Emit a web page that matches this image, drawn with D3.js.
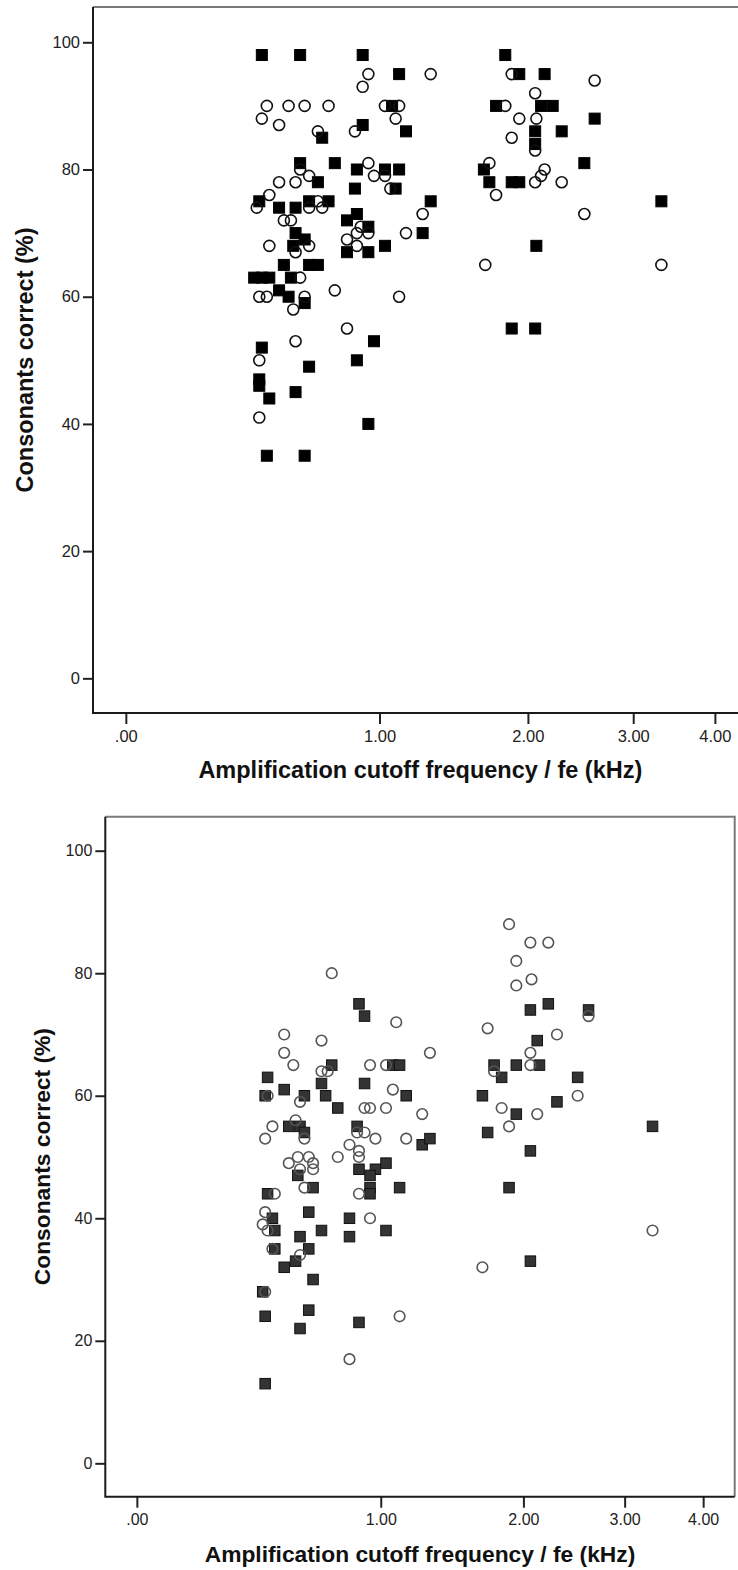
<!DOCTYPE html>
<html>
<head>
<meta charset="utf-8">
<script src="https://cdn.jsdelivr.net/npm/d3@7"></script>
<style>
  body { margin: 0; background: #fff; }
  svg text { font-family: "Liberation Sans", Arial, sans-serif; }
</style>
</head>
<body>
<svg width="738" height="1570"></svg>
<script>
const xTicks = [0, 1, 2, 3, 4];
const yTicks = [0, 20, 40, 60, 80, 100];
const xTitle = "Amplification cutoff frequency / fe (kHz)";
const yTitle = "Consonants correct (%)";

// upper chart: [cutoff kHz, % correct]
const topFilled = [
  [0.45,98],[0.61,98],[0.91,98],[1.11,95],[1.07,90],[0.91,87],[1.15,86],[0.71,85],
  [0.61,81],[0.77,81],[0.88,80],[1.03,80],[1.11,80],[0.69,78],[0.87,77],[1.09,77],
  [0.44,75],[0.65,75],[0.74,75],[1.30,75],[0.52,74],[0.59,74],[0.88,73],[0.83,72],
  [0.94,71],[1.25,70],[0.59,70],[0.63,69],[0.58,68],[1.03,68],[0.83,67],[0.94,67],
  [0.54,65],[0.65,65],[0.69,65],[0.42,63],[0.45,63],[0.48,63],[0.57,63],[0.52,61],
  [0.56,60],[0.63,59],[0.45,52],[0.97,53],[0.88,50],[0.65,49],[0.44,47],[0.44,46],
  [0.48,44],[0.59,45],[0.94,40],[0.47,35],[0.63,35],
  [1.82,98],[1.93,95],[2.14,95],[1.75,90],[2.11,90],[2.21,90],[2.60,88],[2.06,86],
  [2.29,86],[2.06,84],[2.50,81],[1.66,80],[1.70,78],[1.87,78],[1.93,78],[3.32,75],
  [2.07,68],[1.87,55],[2.06,55]
];
const topOpen = [
  [0.94,95],[1.30,95],[0.91,93],[0.47,90],[0.56,90],[0.63,90],[0.74,90],[1.03,90],
  [1.11,90],[0.45,88],[1.09,88],[0.52,87],[0.69,86],[0.87,86],[0.94,81],[0.61,80],
  [0.65,79],[0.97,79],[1.03,79],[0.52,78],[0.59,78],[1.06,77],[0.48,76],[0.43,74],
  [0.65,74],[0.69,75],[0.71,74],[1.25,73],[0.54,72],[0.57,72],[0.90,71],[0.94,70],
  [0.88,70],[1.15,70],[0.83,69],[0.48,68],[0.65,68],[0.88,68],[0.59,67],[0.61,63],
  [0.77,61],[0.44,60],[0.47,60],[0.63,60],[1.11,60],[0.58,58],[0.83,55],[0.59,53],
  [0.44,50],[0.44,41],
  [1.87,95],[2.60,94],[2.06,92],[1.82,90],[1.93,88],[2.07,88],[1.87,85],[2.06,83],
  [1.70,81],[2.14,80],[2.11,79],[2.06,78],[2.29,78],[1.75,76],[2.50,73],[1.67,65],
  [3.32,65]
];

// lower chart
const bottomFilled = [
  [0.88,75],[0.91,73],[0.74,65],[1.07,65],[1.11,65],[0.45,63],[0.69,62],[0.91,62],
  [0.52,61],[0.44,60],[0.61,60],[0.71,60],[1.15,60],[0.77,58],[0.54,55],[0.59,55],
  [0.87,55],[0.61,54],[1.25,52],[1.30,53],[0.88,48],[0.97,48],[1.03,49],[0.94,47],
  [0.58,47],[0.65,45],[0.94,45],[0.94,44],[1.11,45],[0.45,44],[0.63,41],[0.47,40],
  [0.83,40],[0.48,38],[0.69,38],[1.03,38],[0.59,37],[0.83,37],[0.48,35],[0.63,35],
  [0.57,33],[0.52,32],[0.65,30],[0.43,28],[0.44,24],[0.63,25],[0.59,22],[0.88,23],
  [0.44,13],
  [2.22,75],[2.06,74],[2.61,74],[2.12,69],[1.76,65],[1.94,65],[2.14,65],[1.82,63],
  [2.50,63],[1.67,60],[2.30,59],[1.94,57],[1.71,54],[2.06,51],[1.88,45],[2.06,33],
  [3.33,55]
];
const bottomOpen = [
  [0.74,80],[1.09,72],[0.52,70],[0.69,69],[0.52,67],[1.30,67],[0.56,65],[0.94,65],
  [1.03,65],[0.69,64],[0.72,64],[0.45,60],[0.59,59],[1.07,61],[0.91,58],[0.94,58],
  [1.03,58],[1.25,57],[0.57,56],[0.47,55],[0.44,53],[0.61,53],[0.87,54],[0.91,54],
  [0.97,53],[1.15,53],[0.83,52],[0.88,51],[0.88,50],[0.77,50],[0.54,49],[0.58,50],
  [0.63,50],[0.65,49],[0.65,48],[0.59,48],[0.61,45],[0.48,44],[0.88,44],[0.94,40],
  [0.44,41],[0.43,39],[0.45,38],[0.47,35],[0.59,34],[0.44,28],[1.11,24],[0.83,17],
  [1.88,88],[2.06,85],[2.22,85],[1.94,82],[2.07,79],[1.94,78],[2.61,73],[1.71,71],
  [2.30,70],[2.06,67],[2.06,65],[1.76,64],[2.50,60],[1.82,58],[2.12,57],[1.88,55],
  [3.33,38],[1.67,32]
];

const svg = d3.select("svg");
const fmt = v => d3.format(".2f")(v).replace(/^0\./, ".");

function drawPanel(p) {
  const g = svg.append("g");
  // axis is cutoff + 1 on a log scale, so the .00 tick sits at log(1)
  const xs = d3.scaleLog().domain([0.9142, 5.469]).range([p.left, p.right]);
  const x = v => xs(v + 1);
  const y = d3.scaleLinear().domain([-5.45, 105.55]).range([p.bottom, p.top]);

  // frame: top + right grey
  g.append("path")
    .attr("d", `M${p.left},${p.top}H${p.right}V${p.bottom}`)
    .attr("fill", "none").attr("stroke", "#7a7a7a").attr("stroke-width", 2);

  const ya = g.append("g")
    .attr("transform", `translate(${p.left},0)`)
    .call(d3.axisLeft(y).tickValues(yTicks).tickSize(10).tickPadding(3).tickSizeOuter(0));
  const xa = g.append("g")
    .attr("transform", `translate(0,${p.bottom})`)
    .call(d3.axisBottom(xs).tickValues(xTicks.map(v => v + 1))
      .tickFormat(v => fmt(v - 1)).tickSize(11).tickPadding(6).tickSizeOuter(0));
  [ya, xa].forEach(a => {
    a.select(".domain").remove();
    a.selectAll(".tick line").attr("stroke", "#222").attr("stroke-width", 2);
    a.selectAll(".tick text").attr("fill", "#222").style("font-size", p.tickFont + "px");
  });
  g.append("path")
    .attr("d", `M${p.left},${p.top}V${p.bottom}H${p.right}`)
    .attr("fill", "none").attr("stroke", "#1a1a1a").attr("stroke-width", 2);

  const s = p.sq;
  g.selectAll(".sq").data(p.filled).enter().append("rect")
    .attr("class", "sq")
    .attr("x", d => x(d[0]) - s / 2)
    .attr("y", d => y(d[1]) - s / 2)
    .attr("width", s).attr("height", s)
    .attr("fill", p.sqFill).attr("stroke", p.sqStroke).attr("stroke-width", 1);

  g.selectAll(".ci").data(p.open).enter().append("circle")
    .attr("class", "ci")
    .attr("cx", d => x(d[0]))
    .attr("cy", d => y(d[1]))
    .attr("r", p.r)
    .attr("fill", "none").attr("stroke", p.ciStroke).attr("stroke-width", 1.6);

  g.append("text")
    .attr("x", (p.left + p.right) / 2).attr("y", p.xTitleY)
    .attr("text-anchor", "middle")
    .style("font-size", p.titleFont + "px").style("font-weight", "bold")
    .attr("fill", "#111")
    .text(xTitle);
  g.append("text")
    .attr("transform", `translate(${p.yTitleX},${(p.top + p.bottom) / 2}) rotate(-90)`)
    .attr("text-anchor", "middle")
    .style("font-size", p.titleFont + "px").style("font-weight", "bold")
    .attr("fill", "#111")
    .text(yTitle);
}

drawPanel({
  left: 93, right: 747.7, top: 7, bottom: 713,
  filled: topFilled, open: topOpen,
  sq: 11, r: 5.5, sqFill: "#000", sqStroke: "#000", ciStroke: "#111",
  tickFont: 16.5, titleFont: 23.5, xTitleY: 778, yTitleX: 33
});
drawPanel({
  left: 105.3, right: 734.7, top: 816.7, bottom: 1496.7,
  filled: bottomFilled, open: bottomOpen,
  sq: 10.5, r: 5.3, sqFill: "#333", sqStroke: "#111", ciStroke: "#555",
  tickFont: 16, titleFont: 22.8, xTitleY: 1562, yTitleX: 50
});
</script>
</body>
</html>
